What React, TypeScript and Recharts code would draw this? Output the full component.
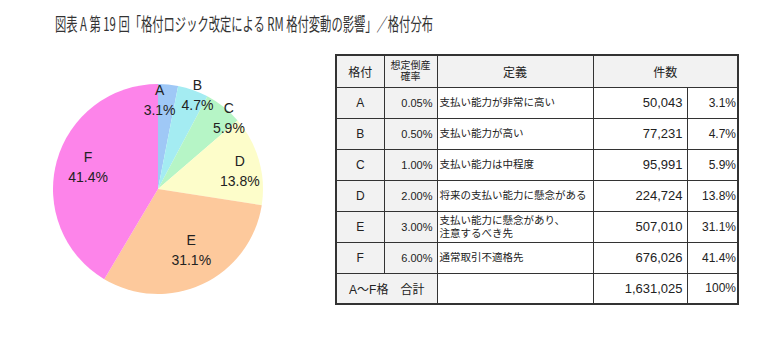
import React from 'react';
import { PieChart, Pie, Cell } from 'recharts';

const TITLE = '図表 A  第 19 回「格付ロジック改定による RM 格付変動の影響」／格付分布';
const grades = ['A', 'B', 'C', 'D', 'E', 'F'];
const probabilities = ['0.05%', '0.50%', '1.00%', '2.00%', '3.00%', '6.00%'];
const definitions = [
  ['支払い能力が非常に高い'],
  ['支払い能力が高い'],
  ['支払い能力は中程度'],
  ['将来の支払い能力に懸念がある'],
  ['支払い能力に懸念があり、', '注意するべき先'],
  ['通常取引不適格先'],
];
const counts = [50043, 77231, 95991, 224724, 507010, 676026];
const shares = ['3.1%', '4.7%', '5.9%', '13.8%', '31.1%', '41.4%'];
const headers = ['格付', '想定倒産\n確率', '定義', '件数'];
const totalLabel = 'A～F格　合計';
const totalCount = 1631025;
const totalShare = '100%';

const COLORS = ['#9fc8f6', '#a4ecf2', '#b6f5c6', '#fdfdca', '#fdc99c', '#fd84ea'];
// label placement (style): radius factor and clockwise angular nudge in degrees
const LABEL_R = [0.86, 0.98, 0.96, 0.8, 0.65, 0.7];
const LABEL_DA = [-4.5, 3, 6, 3, -4, 2.5];
const RAD = Math.PI / 180;

const pieData = grades.map((g, i) => ({ name: g, value: counts[i], share: shares[i] }));

const renderLabel = (props: any) => {
  const { cx, cy, midAngle, outerRadius, index } = props;
  const r = outerRadius * LABEL_R[index];
  const a = midAngle - LABEL_DA[index];
  const x = cx + r * Math.cos(-a * RAD);
  const y = cy + r * Math.sin(-a * RAD);
  return (
    <text
      x={x}
      y={y}
      textAnchor="middle"
      fill="#222"
      fontSize={14}
      fontFamily="'Liberation Sans', Arial, sans-serif"
    >
      <tspan x={x} dy={-4}>{grades[index]}</tspan>
      <tspan x={x} dy={20}>{shares[index]}</tspan>
    </text>
  );
};

const fmt = (n: number) => n.toLocaleString('en-US');

const border = '1px solid #333';
const grey = '#f2f2f2';
const ROW_H = 31;

export default function App() {
  const cell = (extra: React.CSSProperties): React.CSSProperties => ({
    border,
    padding: '0 4px',
    color: '#222',
    whiteSpace: 'nowrap',
    overflow: 'hidden',
    ...extra,
  });
  return (
    <div style={{ position: 'absolute', left: 0, top: 0, width: 780, height: 361, background: '#fff' }}>
      <svg style={{ position: 'absolute', left: 0, top: 0 }} width={780} height={40}>
        <text
          x={55}
          y={31}
          fontSize={18}
          fill="#333"
          fontFamily="'Noto Sans CJK JP', sans-serif"
          textLength={378}
          lengthAdjust="spacingAndGlyphs"
        >
          {TITLE}
        </text>
      </svg>
      <div style={{ position: 'absolute', left: 0, top: 0 }}>
        <PieChart width={320} height={361}>
          <Pie
            data={pieData}
            dataKey="value"
            nameKey="name"
            cx={153}
            cy={184}
            outerRadius={105}
            startAngle={90}
            endAngle={-270}
            stroke="none"
            label={renderLabel}
            labelLine={false}
            isAnimationActive={false}
          >
            {pieData.map((d, i) => (
              <Cell key={d.name} fill={COLORS[i]} />
            ))}
          </Pie>
        </PieChart>
      </div>
      <table
        style={{
          position: 'absolute',
          left: 335,
          top: 54,
          width: 402,
          borderCollapse: 'collapse',
          tableLayout: 'fixed',
          border: '2px solid #333',
          fontFamily: "'Liberation Sans', 'Noto Sans CJK JP', sans-serif",
        }}
      >
        <colgroup>
          <col style={{ width: 48 }} />
          <col style={{ width: 53 }} />
          <col style={{ width: 156 }} />
          <col style={{ width: 94 }} />
          <col style={{ width: 51 }} />
        </colgroup>
        <tbody>
          <tr style={{ height: 32 }}>
            <td style={cell({ background: grey, textAlign: 'center', fontSize: 12 })}>{headers[0]}</td>
            <td style={cell({ background: grey, textAlign: 'center', fontSize: 10, lineHeight: '11px', whiteSpace: 'pre-line', padding: 0 })}>
              {headers[1]}
            </td>
            <td style={cell({ background: grey, textAlign: 'center', fontSize: 12 })}>{headers[2]}</td>
            <td colSpan={2} style={cell({ background: grey, textAlign: 'center', fontSize: 12 })}>{headers[3]}</td>
          </tr>
          {grades.map((g, i) => (
            <tr key={g} style={{ height: ROW_H }}>
              <td style={cell({ background: grey, textAlign: 'center', fontSize: 12 })}>{g}</td>
              <td style={cell({ background: grey, textAlign: 'right', fontSize: 11 })}>{probabilities[i]}</td>
              <td style={cell({ textAlign: 'left', fontSize: 10.5, lineHeight: '13px', padding: '0 2px' })}>
                {definitions[i].map((l, k) => (
                  <div key={k}>{l}</div>
                ))}
              </td>
              <td style={cell({ textAlign: 'right', fontSize: 13 })}>{fmt(counts[i])}</td>
              <td style={cell({ textAlign: 'right', fontSize: 12, padding: '0 1px 0 2px' })}>{shares[i]}</td>
            </tr>
          ))}
          <tr style={{ height: ROW_H }}>
            <td colSpan={2} style={cell({ background: grey, textAlign: 'center', fontSize: 12 })}>{totalLabel}</td>
            <td style={cell({})}></td>
            <td style={cell({ textAlign: 'right', fontSize: 13 })}>{fmt(totalCount)}</td>
            <td style={cell({ textAlign: 'right', fontSize: 12, padding: '0 1px 0 2px' })}>{totalShare}</td>
          </tr>
        </tbody>
      </table>
    </div>
  );
}
